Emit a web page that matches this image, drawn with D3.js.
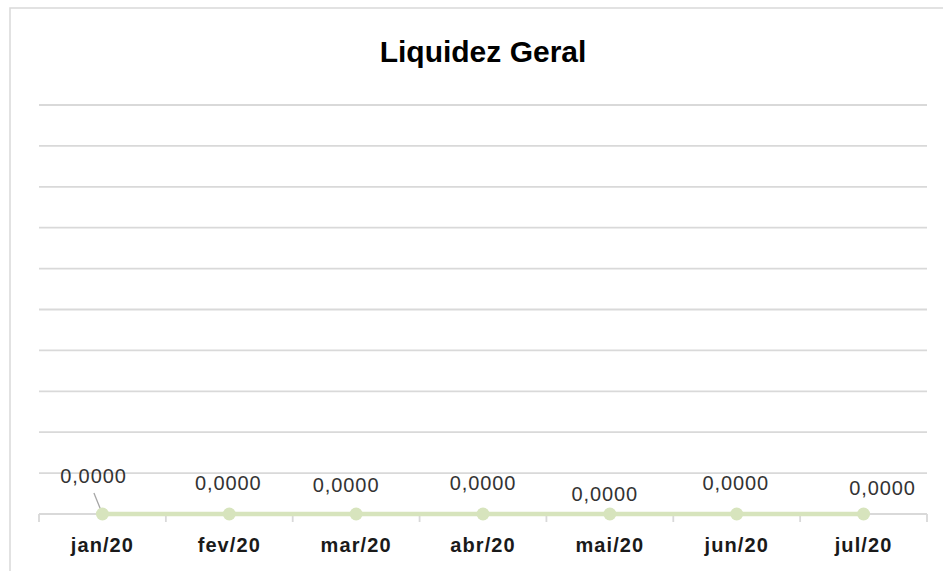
<!DOCTYPE html>
<html>
<head>
<meta charset="utf-8">
<script src="https://cdn.jsdelivr.net/npm/d3@7"></script>
<style>
  html, body { margin: 0; padding: 0; background: #fff; }
  svg { display: block; }
</style>
</head>
<body>
<svg id="chart" width="943" height="571"></svg>
<script>
// ---- data ----
const title = "Liquidez Geral";
const categories = ["jan/20", "fev/20", "mar/20", "abr/20", "mai/20", "jun/20", "jul/20"];
const values = [0, 0, 0, 0, 0, 0, 0];
const valueLabels = ["0,0000", "0,0000", "0,0000", "0,0000", "0,0000", "0,0000", "0,0000"];
const yDomain = [0, 1];
const yTickCount = 10;

// ---- layout (label placement offsets relative to each point) ----
const labelDx = [-9, -1, -10, 0, -5, -1, 19];
const labelDy = [-31.5, -24.5, -22.5, -24.5, -13, -24.5, -19.5];

const svg = d3.select("#chart");
const plot = { left: 39, right: 927, top: 105, bottom: 514 };

// outer chart border
svg.append("rect")
  .attr("x", 10).attr("y", 8)
  .attr("width", 960).attr("height", 600)
  .attr("fill", "#fff")
  .attr("stroke", "#d9d9d9").attr("stroke-width", 1.5);

// title
svg.append("text")
  .attr("x", 483).attr("y", 62)
  .attr("text-anchor", "middle")
  .attr("font-family", "'Liberation Sans', Arial, sans-serif")
  .attr("font-weight", "bold")
  .attr("font-size", 30)
  .attr("fill", "#000")
  .text(title);

const x = d3.scaleBand().domain(categories).range([plot.left, plot.right]).paddingInner(0).paddingOuter(0);
const y = d3.scaleLinear().domain(yDomain).range([plot.bottom, plot.top]);

// gridlines
const gridTicks = y.ticks(yTickCount).filter(t => t > yDomain[0]);
svg.append("g")
  .selectAll("line")
  .data(gridTicks)
  .join("line")
  .attr("x1", plot.left).attr("x2", plot.right)
  .attr("y1", d => y(d)).attr("y2", d => y(d))
  .attr("stroke", "#d9d9d9").attr("stroke-width", 1.8);

// x axis
const xAxis = d3.axisBottom(x).tickSize(0).tickPadding(0);
const gx = svg.append("g").attr("transform", `translate(0,${y(0)})`).call(xAxis);
gx.select(".domain").remove();
gx.selectAll("text").remove();
gx.append("line")
  .attr("x1", plot.left).attr("x2", plot.right)
  .attr("y1", 0).attr("y2", 0)
  .attr("stroke", "#d9d9d9").attr("stroke-width", 1.8);
// tick marks at band boundaries
const boundaries = categories.map(c => x(c)).concat([x(categories[categories.length - 1]) + x.bandwidth()]);
gx.selectAll("line.tickb")
  .data(boundaries)
  .join("line")
  .attr("class", "tickb")
  .attr("x1", d => d).attr("x2", d => d)
  .attr("y1", 0).attr("y2", 8)
  .attr("stroke", "#d9d9d9").attr("stroke-width", 1.8);
// category labels
gx.selectAll("text.cat")
  .data(categories)
  .join("text")
  .attr("class", "cat")
  .attr("x", d => x(d) + x.bandwidth() / 2)
  .attr("y", 38)
  .attr("text-anchor", "middle")
  .attr("font-family", "'Liberation Sans', Arial, sans-serif")
  .attr("font-weight", "bold")
  .attr("font-size", 20)
  .attr("letter-spacing", 1.1)
  .attr("fill", "#1a1a1a")
  .text(d => d);

const pts = categories.map((c, i) => ({ c, v: values[i], i }));
const cx = d => x(d.c) + x.bandwidth() / 2;

// line
svg.append("path")
  .datum(pts)
  .attr("fill", "none")
  .attr("stroke", "#d7e4bd")
  .attr("stroke-width", 4.5)
  .attr("d", d3.line().x(cx).y(d => y(d.v)));

// leader line for the first label
svg.append("line")
  .attr("x1", cx(pts[0]) - 8.5).attr("y1", y(pts[0].v) - 21)
  .attr("x2", cx(pts[0])).attr("y2", y(pts[0].v))
  .attr("stroke", "#a6a6a6").attr("stroke-width", 1.3);

// points
svg.append("g")
  .selectAll("circle")
  .data(pts)
  .join("circle")
  .attr("cx", cx)
  .attr("cy", d => y(d.v))
  .attr("r", 6.5)
  .attr("fill", "#d7e4bd");

// data labels
svg.append("g")
  .selectAll("text")
  .data(pts)
  .join("text")
  .attr("x", d => cx(d) + labelDx[d.i])
  .attr("y", d => y(d.v) + labelDy[d.i])
  .attr("text-anchor", "middle")
  .attr("font-family", "'Liberation Sans', Arial, sans-serif")
  .attr("font-size", 20)
  .attr("letter-spacing", 0.9)
  .attr("fill", "#333")
  .text(d => valueLabels[d.i]);
</script>
</body>
</html>
